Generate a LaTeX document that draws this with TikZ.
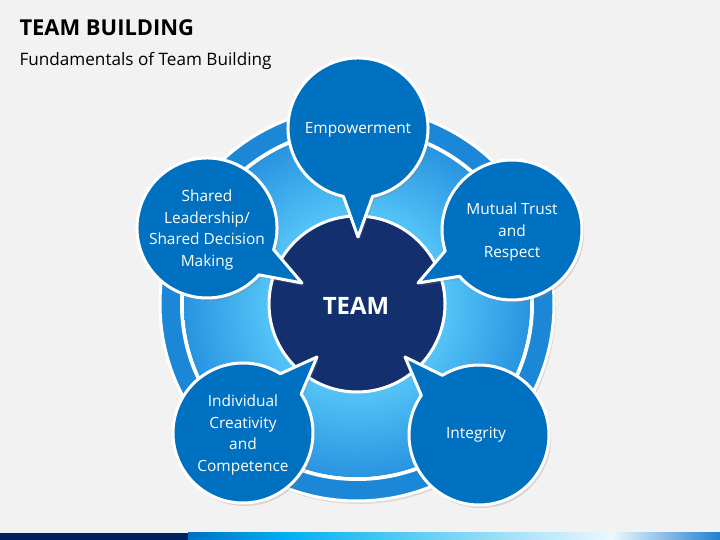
\documentclass[tikz,border=0pt]{standalone}
\usepackage{fontspec}
\setmainfont{Open Sans}
\usepackage{tikz}
\usetikzlibrary{shadows}
\definecolor{bggray}{rgb}{0.949,0.949,0.949}
\definecolor{satblue}{rgb}{0.,0.439,0.753}
\definecolor{navyblue}{rgb}{0.075,0.184,0.431}
\definecolor{ringblue}{rgb}{0.11,0.529,0.84}
\definecolor{lightsky}{rgb}{0.33,0.77,0.97}
\definecolor{midsky}{rgb}{0.16,0.58,0.88}
\definecolor{bardark}{rgb}{0.,0.125,0.376}
\definecolor{barblue}{rgb}{0.,0.44,0.75}
\definecolor{barcyan}{rgb}{0.,0.69,0.94}
\definecolor{barpale}{rgb}{0.93,0.97,0.99}
\definecolor{barend}{rgb}{0.13,0.5,0.82}
\pgfdeclareradialshading{ringglow}{\pgfpoint{0bp}{0bp}}{color(0bp)=(lightsky); color(12.7bp)=(lightsky); color(25bp)=(midsky); color(50bp)=(midsky)}

\begin{document}
\begin{tikzpicture}[line cap=round,line join=round,x=1bp,y=1bp,
  bubble/.style={fill=satblue,draw=white,line width=3bp,drop shadow={opacity=0.25,shadow xshift=2bp,shadow yshift=-3bp}},
  bubbletext/.style={align=center,text=white,font=\fontsize{15.5}{21.5}\selectfont}]
\fill[bggray] (0,0) rectangle (720,540);
\useasboundingbox (0,0) rectangle (720,540);
\fill[bardark] (0,0) rectangle (188,7);
\shade[left color=barblue,right color=barcyan] (188,0) rectangle (285,7);
\shade[left color=barcyan,right color=barpale] (285,0) rectangle (612,7);
\shade[left color=barpale,right color=barend] (612,0) rectangle (720,7);
\node[anchor=base west,font=\fontsize{22}{26}\selectfont\bfseries] (title) at (16,504) {TEAM BUILDING};
\node[anchor=base west,font=\fontsize{17.2}{21}\selectfont] (subtitle) at (16,474) {Fundamentals of Team Building};
\coordinate (ring) at (357,236);
\draw[fill=ringblue,draw=white,line width=3bp,drop shadow={opacity=0.2,shadow xshift=2bp,shadow yshift=-3bp}] (ring) circle (197);
\draw[white,line width=4bp] (ring) circle (175);
\shade[shading=ringglow] (ring) circle (173);
\draw[fill=navyblue,draw=white,line width=3bp] (ring) circle (88);
\coordinate (emp-c) at (358,412);
\coordinate (emp-t) at (358,303);
\coordinate (shr-c) at (207,312);
\coordinate (shr-t) at (302,257);
\coordinate (mut-c) at (512,310);
\coordinate (mut-t) at (418,257);
\coordinate (ind-c) at (243,107);
\coordinate (ind-t) at (317,183);
\coordinate (int-c) at (479,105);
\coordinate (int-t) at (405,183);
\foreach \b/\a in {emp/-90,shr/-30,mut/-150.6,ind/45.8,int/133.5}
\draw[bubble] (\b-c) ++({\a+12}:70) arc[start angle={\a+12},end angle={\a+348},radius=70] -- (\b-t) -- cycle;
\node[text=white,font=\fontsize{24}{28}\selectfont\bfseries] (team) at (356,234) {TEAM};
\node[bubbletext] (emp) at (358,410.5) {Empowerment};
\node[bubbletext] (shr) at (207,310) {Shared\\Leadership/\\Shared Decision\\Making};
\node[bubbletext] (mut) at (512,308) {Mutual Trust\\and\\Respect};
\node[bubbletext] (ind) at (243,105) {Individual\\Creativity\\and\\Competence};
\node[bubbletext] (int) at (476,105) {Integrity};
\end{tikzpicture}
\end{document}
